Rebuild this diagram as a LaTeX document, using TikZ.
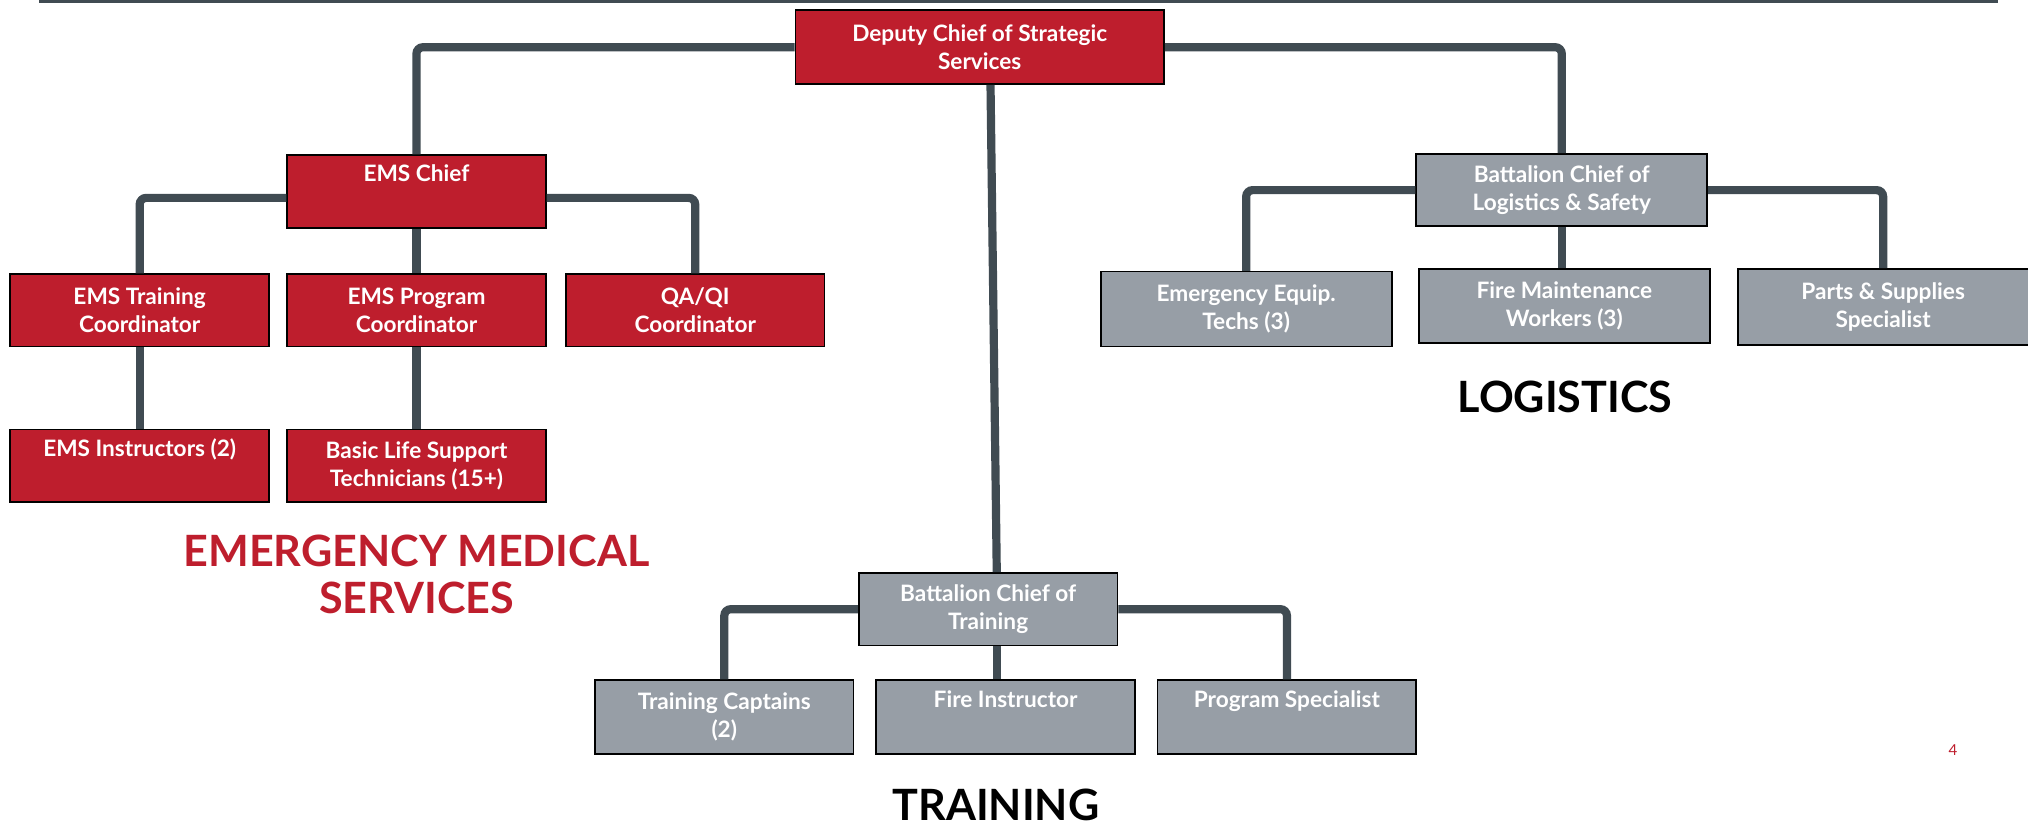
\documentclass[tikz,border=0pt]{standalone}
\usepackage{fontspec}
\setmainfont{Lato}

\definecolor{emsred}{RGB}{190,30,45}
\definecolor{boxgray}{RGB}{151,158,166}
\definecolor{linegray}{RGB}{64,75,82}

\begin{document}
\begin{tikzpicture}[x=0.6pt, y=-0.6pt,
    box/.style={draw=black, line width=0.8pt, text=white, align=center, inner sep=0pt,
      font=\bfseries\fontsize{10.5}{13}\selectfont, minimum width=120pt, minimum height=33.6pt},
    redbox/.style={box, fill=emsred},
    graybox/.style={box, fill=boxgray, minimum width=135pt},
    link/.style={draw=linegray, line width=3.8pt, rounded corners=3pt},
    heading/.style={font=\bfseries\fontsize{20}{21.6}\selectfont, align=center}]
        \useasboundingbox (0,0) rectangle (1568,640);
        \draw[linegray, line width=1.8pt] (30,1) -- (1545,1);

        % top
        \node[redbox, minimum width=171pt, minimum height=34.2pt] (deputy) at (757.5,36.5) {Deputy Chief of Strategic\\Services};

        % emergency medical services
        \begin{scope}
          \node[redbox] (emschief) at (322,148) {EMS Chief\\\strut};
          \node[redbox] (emstrain) at (108,240) {EMS Training\\Coordinator};
          \node[redbox] (emsprog) at (322,240) {EMS Program\\Coordinator};
          \node[redbox] (qaqi) at (537.5,240) {QA/QI\\Coordinator};
          \node[redbox] (emsinstr) at (108,360) {EMS Instructors (2)\\\strut};
          \node[redbox] (bls) at (322,360) {Basic Life Support\\Technicians (15+)};
          \node[heading, text=emsred] (emshead) at (322,444) {EMERGENCY MEDICAL\\SERVICES};
        \end{scope}

        % logistics
        \begin{scope}
          \node[graybox] (bclog) at (1207.5,147) {Battalion Chief of\\Logistics \& Safety};
          \node[graybox, minimum height=34.8pt] (equip) at (963.5,239) {Emergency Equip.\\Techs (3)};
          \node[graybox, minimum height=34.2pt] (firemaint) at (1209.5,236.5) {Fire Maintenance\\Workers (3)};
          \node[graybox, minimum height=35.4pt] (parts) at (1456,237.5) {Parts \& Supplies\\Specialist};
          \node[heading] (loghead) at (1210,307) {LOGISTICS};
        \end{scope}

        % training
        \begin{scope}
          \node[graybox, minimum width=120pt] (bctrain) at (764,471) {Battalion Chief of\\Training};
          \node[graybox, minimum width=120pt, minimum height=34.2pt] (captains) at (560,554.5) {Training Captains\\(2)};
          \node[graybox, minimum width=120pt, minimum height=34.2pt] (fireinstr) at (777.5,554.5) {Fire Instructor\\\strut};
          \node[graybox, minimum width=120pt, minimum height=34.2pt] (progspec) at (995,554.5) {Program Specialist\\\strut};
          \node[heading] (trainhead) at (770,622) {TRAINING};
        \end{scope}

        \node[text=emsred, font=\fontsize{7}{8}\selectfont] (pagenum) at (1510,580) {4};

        % connectors
        \draw[link] (deputy.west) -| (emschief.north);
        \draw[link] (deputy.east) -| (bclog.north);
        \draw[link] ([xshift=5pt]deputy.south) -- ([xshift=4pt]bctrain.north);
        \draw[link] ([yshift=-3pt]emschief.west) -| (emstrain.north);
        \draw[link] ([yshift=-3pt]emschief.east) -| (qaqi.north);
        \draw[link] (emschief.south) -- (emsprog.north);
        \draw[link] (emstrain.south) -- (emsinstr.north);
        \draw[link] (emsprog.south) -- (bls.north);
        \draw[link] (bclog.west) -| (equip.north);
        \draw[link] (bclog.east) -| (parts.north);
        \draw[link] (bclog.south) -- (bclog.south |- firemaint.north);
        \draw[link] (bctrain.west) -| (captains.north);
        \draw[link] (bctrain.east) -| (progspec.north);
        \draw[link] ([xshift=4pt]bctrain.south) -- ([xshift=4pt]bctrain.south |- fireinstr.north);
\end{tikzpicture}
\end{document}
